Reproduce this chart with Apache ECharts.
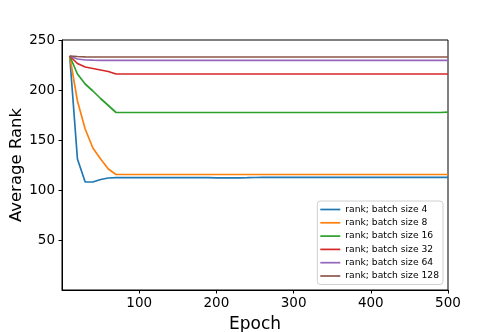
<!DOCTYPE html>
<html>
<head>
<meta charset="utf-8">
<script src="https://cdn.jsdelivr.net/npm/echarts@6/dist/echarts.min.js"></script>
<style>html,body{margin:0;padding:0;background:#fff;}#c{width:498px;height:332px;}</style>
</head>
<body>
<div id="c"></div>
<script>
const epochs = [10,20,30,40,50,60,70,80,90,100,110,120,130,140,150,160,170,180,190,200,210,220,230,240,250,260,270,280,290,300,310,320,330,340,350,360,370,380,390,400,410,420,430,440,450,460,470,480,490,500];
const bs4 = [234,131,108,108,110.5,112,112.3,112.3,112.3,112.4,112.4,112.4,112.3,112.3,112.3,112.3,112.3,112.3,112.3,112.2,112.2,112.2,112.2,112.3,112.5,112.6,112.6,112.6,112.6,112.6,112.6,112.6,112.6,112.6,112.6,112.6,112.6,112.6,112.6,112.6,112.6,112.6,112.6,112.6,112.6,112.6,112.6,112.6,112.6,112.6];
const bs8 = [234,189,161,142,131,121,115.5,115.5,115.5,115.5,115.5,115.5,115.5,115.5,115.5,115.5,115.5,115.5,115.5,115.5,115.5,115.5,115.5,115.5,115.5,115.5,115.5,115.5,115.5,115.5,115.5,115.5,115.5,115.5,115.5,115.5,115.5,115.5,115.5,115.5,115.5,115.5,115.5,115.5,115.5,115.5,115.5,115.5,115.5,115.5];
const bs16 = [234,216,206,199,191.5,184.5,177.5,177.5,177.5,177.5,177.5,177.5,177.5,177.5,177.5,177.5,177.5,177.5,177.5,177.5,177.5,177.5,177.5,177.5,177.5,177.5,177.5,177.5,177.5,177.5,177.5,177.5,177.5,177.5,177.5,177.5,177.5,177.5,177.5,177.5,177.5,177.5,177.5,177.5,177.5,177.5,177.5,177.5,177.5,177.8];
const bs32 = [234,226.5,223,221.5,220,218.5,216,216,216,216,216,216,216,216,216,216,216,216,216,216,216,216,216,216,216,216,216,216,216,216,216,216,216,216,216,216,216,216,216,216,216,216,216,216,216,216,216,216,216,216];
const bs64 = [234,231,230,229.8,229.7,229.7,229.7,229.7,229.7,229.7,229.7,229.7,229.7,229.7,229.7,229.7,229.7,229.7,229.7,229.7,229.7,229.7,229.7,229.7,229.7,229.7,229.7,229.7,229.7,229.7,229.7,229.7,229.7,229.7,229.7,229.7,229.7,229.7,229.7,229.7,229.7,229.7,229.7,229.7,229.7,229.7,229.7,229.7,229.7,229.7];
const bs128 = [234,233.5,233.2,233,233,233,233,233,233,233,233,233,233,233,233,233,233,233,233,233,233,233,233,233,233,233,233,233,233,233,233,233,233,233,233,233,233,233,233,233,233,233,233,233,233,233,233,233,233,233];
const seriesNames = ['rank; batch size 4','rank; batch size 8','rank; batch size 16','rank; batch size 32','rank; batch size 64','rank; batch size 128'];
const seriesData = [bs4,bs8,bs16,bs32,bs64,bs128];
const colors = ['#1f77b4','#ff7f0e','#2ca02c','#d62728','#9467bd','#8c564b'];
const xTicks = [100,200,300,400,500];
const yTicks = [50,100,150,200,250];

const font = 'DejaVu Sans';
const chart = echarts.init(document.getElementById('c'), null, {renderer:'canvas'});
chart.setOption({
  animation: false,
  color: colors,
  grid: {left: 62, right: 50, top: 40, bottom: 42, containLabel: false, outerBoundsMode: 'none', show: true, borderColor: '#000', borderWidth: 1, backgroundColor: 'transparent'},
  xAxis: {
    type: 'value', min: 0, max: 500,
    name: 'Epoch', nameLocation: 'middle', nameGap: 26, nameMoveOverlap: false,
    nameTextStyle: {fontFamily: font, fontSize: 17, color: '#000'},
    axisLine: {show: true, onZero: false, lineStyle: {color: '#000', width: 1}},
    axisTick: {show: true, length: 3.5, customValues: xTicks, lineStyle: {color: '#000'}},
    axisLabel: {customValues: xTicks, fontFamily: font, fontSize: 13.5, color: '#000', margin: 6},
    splitLine: {show: false}
  },
  yAxis: {
    type: 'value', min: 0, max: 250,
    name: 'Average Rank', nameLocation: 'middle', nameGap: 37, nameRotate: 90, nameMoveOverlap: false,
    nameTextStyle: {fontFamily: font, fontSize: 16.5, color: '#000'},
    axisLine: {show: true, onZero: false, lineStyle: {color: '#000', width: 1}},
    axisTick: {show: true, length: 3.5, customValues: yTicks, lineStyle: {color: '#000'}},
    axisLabel: {customValues: yTicks, fontFamily: font, fontSize: 13.5, color: '#000', margin: 7},
    splitLine: {show: false}
  },
  legend: {
    orient: 'vertical', right: 55, top: 201,
    icon: 'rect',
    itemWidth: 20, itemHeight: 1.7, itemGap: 2.3,
    padding: [3, 4, 3, 3],
    backgroundColor: '#fff', borderColor: '#d0d0d0', borderWidth: 1, borderRadius: 3,
    textStyle: {fontFamily: font, fontSize: 9.2, color: '#000', lineHeight: 11},
    data: seriesNames
  },
  series: seriesNames.map((n, i) => ({
    name: n, type: 'line', symbol: 'none', showSymbol: false,
    lineStyle: {width: 1.7, color: colors[i]},
    itemStyle: {color: colors[i]},
    data: epochs.map((e, j) => [e, seriesData[i][j]])
  }))
});
</script>
</body>
</html>
